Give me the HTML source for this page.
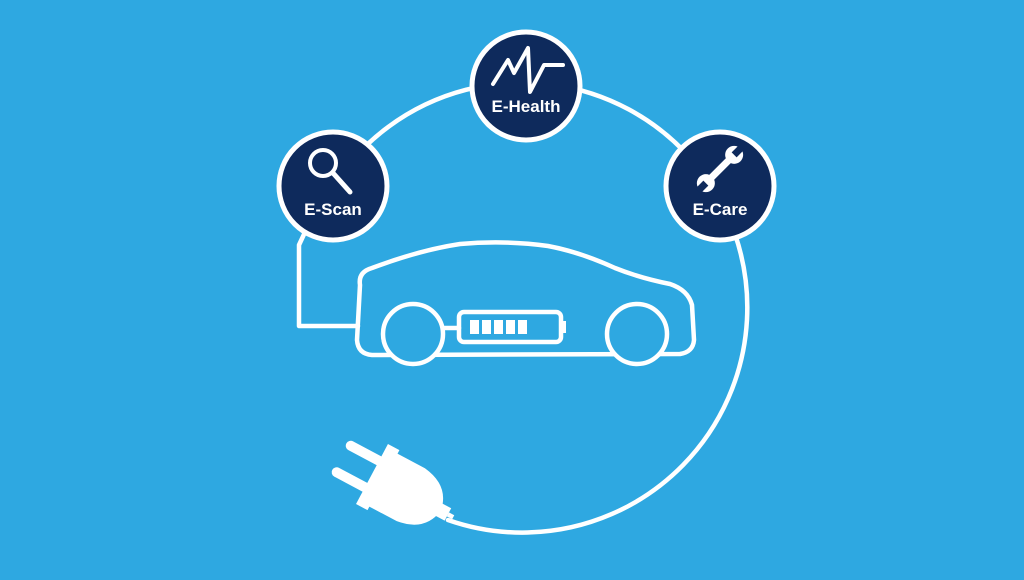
<!DOCTYPE html>
<html><head><style>
html,body{margin:0;padding:0;background:#2ea8e1;}
svg{display:block}
text{font-family:"Liberation Sans",Arial,sans-serif;font-weight:bold;fill:#fff;font-size:17px;text-anchor:middle}
</style></head><body>
<svg width="1024" height="580" viewBox="0 0 1024 580">
<rect width="1024" height="580" fill="#2ea8e1"/>
<g fill="none" stroke="#fff" stroke-width="4.5" stroke-linecap="round" stroke-linejoin="round">
 <path d="M333 186 A225 225 0 1 1 448 520"/>
 <path d="M306 230 L299 245 L299 326 L358 326"/>
 <path d="M360 285 Q358 272 372 268 Q420 250 460 244 Q505 240 548 246 Q580 252 615 268 Q640 278 670 284 Q688 290 692 305 L694 340 Q693 352 680 354 L372 355 Q358 354 357 340 Z"/>
 <circle cx="413" cy="334" r="30" fill="#2ea8e1"/>
 <circle cx="637" cy="334" r="30" fill="#2ea8e1"/>
 <path d="M443 328 L459 328"/>
 <rect x="459" y="312" width="102" height="30" rx="5"/>
</g>
<rect x="560" y="321" width="6" height="12" fill="#fff"/>
<g fill="#fff">
 <rect x="470" y="320" width="9" height="14"/><rect x="482" y="320" width="9" height="14"/>
 <rect x="494" y="320" width="9" height="14"/><rect x="506" y="320" width="9" height="14"/>
 <rect x="518" y="320" width="9" height="14"/>
</g>
<g transform="translate(402 490) rotate(28)" fill="#fff">
 <line x1="-66" y1="-15" x2="-26" y2="-15" stroke="#fff" stroke-width="10" stroke-linecap="round"/>
 <line x1="-66" y1="15" x2="-26" y2="15" stroke="#fff" stroke-width="10" stroke-linecap="round"/>
 <rect x="-34" y="-34" width="13" height="68"/>
 <path d="M-23 -30 L10 -30 Q40 -26 44 0 Q40 26 10 30 L-23 30 Z"/>
 <rect x="40" y="-7" width="12" height="14"/>
 <line x1="52" y1="0" x2="58" y2="0" stroke="#fff" stroke-width="4.5"/>
</g>
<g stroke="#fff" stroke-width="5" fill="#0e2a5c">
 <circle cx="526" cy="86" r="54"/>
 <circle cx="333" cy="186" r="54"/>
 <circle cx="720" cy="186" r="54"/>
</g>
<path d="M493 84 L508 60 L514 73 L528 48 L530 92 L544 65 L563 65" fill="none" stroke="#fff" stroke-width="4" stroke-linecap="round" stroke-linejoin="round"/>
<text x="526" y="112">E-Health</text>
<g fill="none" stroke="#fff" stroke-linecap="round">
 <circle cx="323" cy="163" r="13" stroke-width="4"/>
 <line x1="333" y1="173" x2="350" y2="192" stroke-width="5"/>
</g>
<text x="333" y="215">E-Scan</text>
<g transform="translate(720 169) rotate(45)">
 <rect x="-3.5" y="-16" width="7" height="32" fill="#fff"/>
 <circle cx="0" cy="-20" r="9" fill="#fff"/>
 <circle cx="0" cy="20" r="9" fill="#fff"/>
 <rect x="-3.5" y="-31" width="7" height="11" fill="#0e2a5c"/>
 <rect x="-3.5" y="20" width="7" height="11" fill="#0e2a5c"/>
</g>
<text x="720" y="215">E-Care</text>
</svg>
</body></html>
